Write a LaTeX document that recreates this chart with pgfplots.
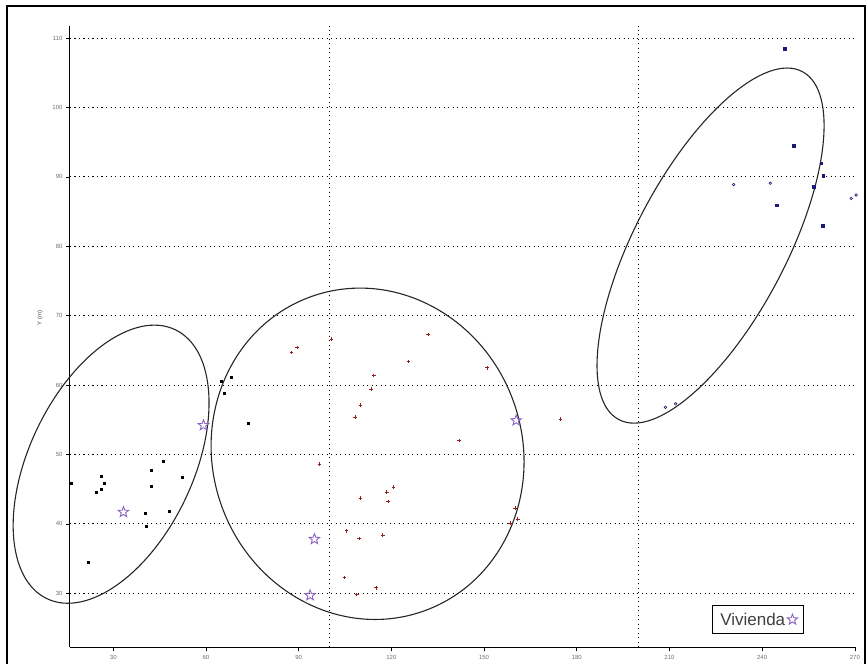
\documentclass[border=0pt]{standalone}
\usepackage{pgfplots}
\pgfplotsset{compat=1.18}
\usepackage{fontspec}
\setmainfont{Liberation Sans}
\definecolor{redpt}{RGB}{150,30,30}
\definecolor{bluept}{RGB}{25,25,120}
\definecolor{starc}{RGB}{140,100,200}
\definecolor{tickc}{RGB}{110,110,110}
\pgfdeclareplotmark{ostar}{%
  \pgfpathmoveto{\pgfpointpolar{90}{\pgfplotmarksize}}%
  \pgfpathlineto{\pgfpointpolar{126}{0.42\pgfplotmarksize}}%
  \pgfpathlineto{\pgfpointpolar{162}{\pgfplotmarksize}}%
  \pgfpathlineto{\pgfpointpolar{198}{0.42\pgfplotmarksize}}%
  \pgfpathlineto{\pgfpointpolar{234}{\pgfplotmarksize}}%
  \pgfpathlineto{\pgfpointpolar{270}{0.42\pgfplotmarksize}}%
  \pgfpathlineto{\pgfpointpolar{306}{\pgfplotmarksize}}%
  \pgfpathlineto{\pgfpointpolar{342}{0.42\pgfplotmarksize}}%
  \pgfpathlineto{\pgfpointpolar{18}{\pgfplotmarksize}}%
  \pgfpathlineto{\pgfpointpolar{54}{0.42\pgfplotmarksize}}%
  \pgfpathclose
  \pgfusepathqstroke
}
\begin{document}
\begin{tikzpicture}
\useasboundingbox (0pt,0pt) rectangle (867pt,664pt);
\draw[line width=1.5pt] (7pt,0pt) -- (7pt,658pt) -- (865pt,658pt) -- (865pt,0pt);
\begin{axis}[
  at={(70pt,16.6pt)}, anchor=south west,
  scale only axis, width=786.4pt, height=621.8pt,
  xmin=16, xmax=270.5, ymin=22.2, ymax=111.8,
  axis lines=left, axis line style={-, line width=1pt},
  xtick={30,60,...,270}, ytick={30,40,...,110},
  tick align=outside, major tick length=4pt,
  tick style={black, line width=0.6pt},
  ymajorgrids,
  grid style={black, line width=0.9pt, dash pattern=on 1.1pt off 3.4pt},
  extra x ticks={100,200}, extra x tick labels={},
  extra x tick style={xmajorgrids=true, ymajorgrids=false, major tick length=0pt},
  tick label style={font=\fontsize{6}{7}\selectfont, text=tickc},
  /pgf/number format/assume math mode=true,
  ylabel={Y (m)},
  every axis y label/.style={at={(axis description cs:-0.038,0.53)}, rotate=90, anchor=center, font=\fontsize{6}{7}\selectfont, text=black!70},
  clip=false,
  legend style={at={(axis description cs:0.816,0.068)}, anchor=north west, draw=black, line width=1.2pt,
    font=\fontsize{17}{20}\selectfont, text=black!75, inner xsep=6pt, inner ysep=5pt},
  legend plot pos=right,
  legend image code/.code={\draw[#1] plot coordinates {(-6pt,0pt)};},
]
\addplot[only marks, mark=square*, mark size=1.0pt, black, forget plot] coordinates {
(16.3,45.8) (26.2,46.8) (27.1,45.8) (26.0,45.0) (24.4,44.5) (21.9,34.5)
(42.2,47.8) (42.4,45.4) (46.2,49.1) (52.2,46.7) (40.3,41.5) (40.6,39.6)
(48.1,41.8) (64.9,60.5) (68.1,61.1) (65.9,58.8) (73.7,54.5)};
\addplot[only marks, mark=+, mark size=1.8pt, redpt, line width=0.8pt, forget plot] coordinates {
(87.7,64.7) (89.5,65.4) (100.6,66.6) (131.9,67.3) (125.6,63.4) (151.0,62.5)
(114.3,61.4) (113.5,59.4) (110.0,57.1) (108.3,55.4) (141.9,52.0) (174.7,55.1)
(96.7,48.6) (110.0,43.7) (118.5,44.6) (120.7,45.3) (118.9,43.2) (105.5,39.0)
(109.6,37.9) (117.2,38.4) (104.8,32.3) (108.8,29.8) (115.0,30.8) (160.1,42.3)
(160.9,40.7) (158.4,40.1)};
\addplot[only marks, mark=square*, mark size=1.3pt, bluept, forget plot] coordinates {
(250.2,94.5) (259.1,92.0) (259.8,90.2) (256.6,88.6) (244.7,85.9) (259.6,83.0) (247.2,108.5)};
\addplot[only marks, mark=o, mark size=1.3pt, bluept, line width=0.6pt, forget plot] coordinates {
(230.8,88.9) (242.6,89.1) (268.8,86.9) (270.4,87.4) (208.7,56.8) (212.0,57.3)};
\addplot[only marks, mark=ostar, mark size=5.5pt, starc, line width=0.9pt] coordinates {
(33.3,41.7) (59.2,54.2) (95.1,37.8) (93.7,29.7) (160.4,54.9)};
\addlegendentry{Vivienda}
\draw[black!85, line width=1.1pt] (axis cs:29.3,48.6) ellipse [x radius=149pt, y radius=82pt, rotate=64.5];
\draw[black!85, line width=1.1pt] (axis cs:112.3,50.1) ellipse [x radius=155pt, y radius=167pt, rotate=20];
\draw[black!85, line width=1.1pt] (axis cs:223.3,80.1) ellipse [x radius=196.7pt, y radius=75.6pt, rotate=62.2];
\end{axis}
\end{tikzpicture}
\end{document}
